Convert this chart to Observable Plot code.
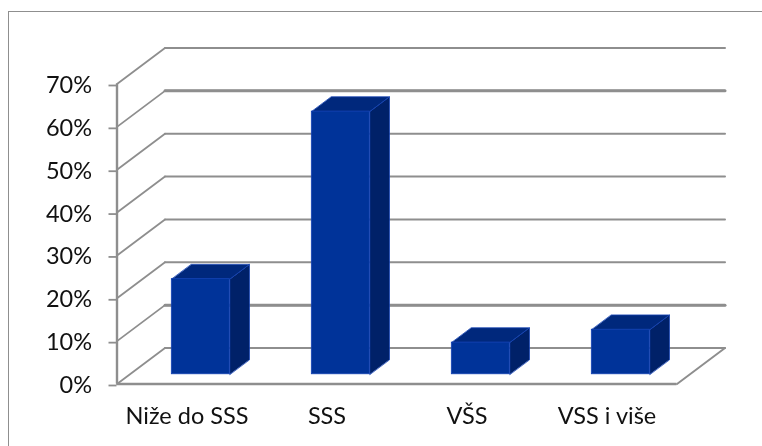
<!DOCTYPE html>
<html>
<head>
<meta charset="utf-8">
<script src="https://cdn.jsdelivr.net/npm/d3@7"></script>
<script src="https://cdn.jsdelivr.net/npm/@observablehq/plot@0.6"></script>
<style>
  html, body { margin: 0; padding: 0; background: #fff; }
  #chart { position: relative; width: 762px; height: 446px; overflow: hidden; }
  #edge { position: absolute; left: 8px; top: 11px; right: -4px; bottom: -4px;
          border-left: 1.5px solid #8f8f8f; border-top: 1.5px solid #8f8f8f; }
  #chart svg { position: absolute; left: 0; top: 0; background: transparent; filter: blur(0.3px); }
</style>
</head>
<body>
<div id="chart"><div id="edge"></div></div>
<script>
const categories = ["Niže do SSS", "SSS", "VŠS", "VSS i više"];
const values = [22.2, 61.3, 7.4, 10.4];
const yTicks = [0, 10, 20, 30, 40, 50, 60, 70];
const heavyTicks = [10, 60];

// Oblique projection in data units: depth t runs 0 (front) to 1 (back wall).
const depthX = 48 / 140;
const depthY = 8.4;
const front = 0.27, back = 0.68, halfBar = 0.207, barCentre = 0.506;
const px = (c, t) => c + t * depthX;
const py = (v, t) => v + t * depthY;
const pt = (c, v, t) => ({x: px(c, t), y: py(v, t)});

const bars = categories.map((name, i) => ({name, i, value: values[i], c: i + barCentre}));
const seg = (key, pts) => pts.map(p => ({...p, key}));

const face = (b, kind) => {
  const l = b.c - halfBar, r = b.c + halfBar, v = b.value;
  if (kind === "top") return seg(b.name, [pt(l, v, front), pt(r, v, front), pt(r, v, back), pt(l, v, back)]);
  return seg(b.name, [pt(r, 0, front), pt(r, v, front), pt(r, v, back), pt(r, 0, back)]);
};

const wallLines = yTicks.flatMap(v => seg("w" + v, [pt(0, v, 0), pt(0, v, 1)]));
const backLines = yTicks.flatMap(v => seg("b" + v, [pt(0, v, 1), pt(4, v, 1)]));
const heavyLines = heavyTicks.flatMap(v => seg("h" + v, [pt(0, v, 1), pt(4, v, 1)]));
const floorEdge = seg("f", [pt(4, 0, 0), pt(4, 0, 1)]);

const gray = "#8e8e8e", edge = "#1443b4";
const lineOpts = {x: "x", y: "y", z: "key", stroke: gray};

const chart = Plot.plot({
  width: 762,
  height: 446,
  marginLeft: 116.5,
  marginRight: 85.5,
  marginTop: 83.5,
  marginBottom: 62.5,
  style: {fontFamily: "Lato, Carlito, 'Open Sans', sans-serif", background: "transparent", overflow: "visible"},
  x: {type: "linear", domain: [0, 4], axis: null},
  y: {type: "linear", domain: [0, 70], axis: null},
  marks: [
    Plot.line(backLines, {...lineOpts, strokeWidth: 2}),
    Plot.line(heavyLines, {...lineOpts, strokeWidth: 3}),
    Plot.line(wallLines, {...lineOpts, strokeWidth: 1.8}),
    Plot.line(floorEdge, {...lineOpts, strokeWidth: 2}),
    Plot.ruleX([0], {y1: 0, y2: 70, stroke: gray, strokeWidth: 2.4}),
    Plot.ruleY([0], {x1: 0, x2: 4, stroke: gray, strokeWidth: 2.6}),
    Plot.axisY({
      ticks: yTicks, tickSize: 8, tickPadding: 17, stroke: gray, fill: "#111",
      strokeWidth: 1.8, fontSize: 23.5, label: null, dy: 1.5, tickFormat: d => d + "%"
    }),
    Plot.axisX({
      ticks: categories.map((_, i) => i + 0.5), tickFormat: d => categories[d - 0.5],
      tickSize: 0, tickPadding: 23, fill: "#111", fontSize: 23.5, label: null
    }),
    Plot.line(bars.flatMap(b => face(b, "side")), {
      x: "x", y: "y", z: "key", fill: "#002168", stroke: edge, strokeWidth: 0.8, curve: "linear-closed"
    }),
    Plot.line(bars.flatMap(b => face(b, "top")), {
      x: "x", y: "y", z: "key", fill: "#00287c", stroke: edge, strokeWidth: 0.8, curve: "linear-closed"
    }),
    Plot.rect(bars, {
      x1: b => px(b.c - halfBar, front), x2: b => px(b.c + halfBar, front),
      y1: () => py(0, front), y2: b => py(b.value, front),
      fill: "#003399", stroke: edge, strokeWidth: 0.8
    })
  ]
});
document.getElementById("chart").appendChild(chart);
</script>
</body>
</html>
